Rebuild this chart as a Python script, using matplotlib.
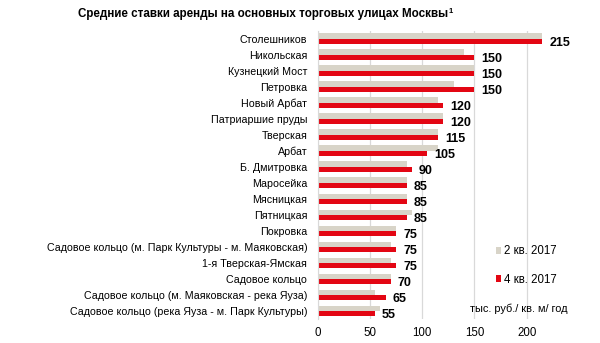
import matplotlib.pyplot as plt
import numpy as np

plt.rcParams["font.family"] = ["Liberation Sans", "DejaVu Sans"]

streets = [
    "Столешников",
    "Никольская",
    "Кузнецкий Мост",
    "Петровка",
    "Новый Арбат",
    "Патриаршие пруды",
    "Тверская",
    "Арбат",
    "Б. Дмитровка",
    "Маросейка",
    "Мясницкая",
    "Пятницкая",
    "Покровка",
    "Садовое кольцо (м. Парк Культуры - м. Маяковская)",
    "1-я Тверская-Ямская",
    "Садовое кольцо",
    "Садовое кольцо (м. Маяковская - река Яуза)",
    "Садовое кольцо (река Яуза - м. Парк Культуры)",
]
q2_2017 = [215, 140, 150, 130, 115, 120, 115, 115, 85, 85, 85, 90, 75, 70, 70, 70, 55, 60]
q4_2017 = [215, 150, 150, 150, 120, 120, 115, 105, 90, 85, 85, 85, 75, 75, 75, 70, 65, 55]

grey = "#D8D4C8"
red = "#E30613"

fig = plt.figure(figsize=(6, 3.43), dpi=100)
ax = fig.add_axes([0.5295, 0.07, 0.418, 0.841])

y = np.arange(len(streets))
h = 0.33
ax.barh(y - h / 2, q2_2017, height=h, color=grey, label="2 кв. 2017", zorder=2)
ax.barh(y + h / 2, q4_2017, height=h, color=red, label="4 кв. 2017", zorder=2)

# value labels for the latest quarter
for yi, v in zip(y, q4_2017):
    ax.annotate(str(v), (v, yi + h / 2), xytext=(5, -1), textcoords="offset points",
                ha="left", va="center", fontsize=9, fontweight="bold")

ax.set_ylim(len(streets) - 0.5, -0.5)
ax.set_xlim(0, 240)
ax.set_xticks([0, 50, 100, 150, 200])
ax.set_yticks(y)
ax.set_yticklabels(streets, fontsize=7.7)
ax.tick_params(axis="x", labelsize=8.3, length=0, pad=6)
ax.tick_params(axis="y", length=0, pad=7.5)
ax.grid(axis="x", color="#D9D9D9", linewidth=0.9, zorder=0)
for s in ["top", "right", "bottom"]:
    ax.spines[s].set_visible(False)
ax.spines["left"].set_color("#D9D9D9")

ax.legend(loc="center left", bbox_to_anchor=(0.826, 0.226), bbox_transform=fig.transFigure,
          frameon=False, fontsize=8.3, borderpad=0, borderaxespad=0,
          handlelength=0.5, handleheight=0.5, labelspacing=1.4, handletextpad=0.25)

fig.text(0.864, 0.099, "тыс. руб./ кв. м/ год", fontsize=7.9, ha="center", va="center")
title = fig.text(0.438, 0.958, "Средние ставки аренды на основных торговых улицах Москвы",
                 fontsize=8.4, fontweight="bold", ha="center", va="center")
# footnote mark right after the title
ax.annotate("1", xy=(1, 1), xycoords=title, xytext=(0.5, 0), textcoords="offset points",
            ha="left", va="top", fontsize=5.5, fontweight="bold", annotation_clip=False)

fig.savefig("out.png", dpi=100)
